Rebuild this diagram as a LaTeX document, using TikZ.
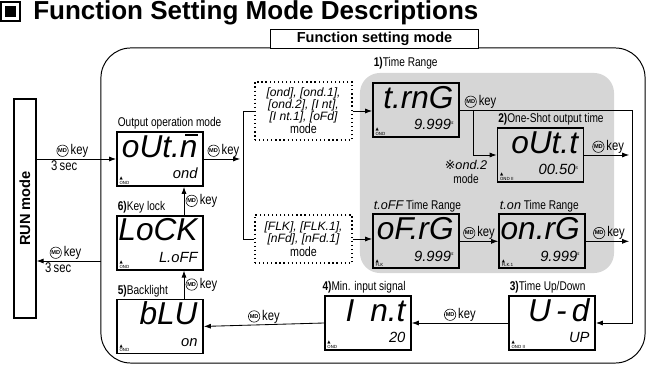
\documentclass[tikz,border=0pt]{standalone}
\usepackage{fontspec}
\setmainfont{Liberation Sans}
\newfontfamily\narrowfont[FakeStretch=0.8]{Liberation Sans}
\newfontfamily\segfont{Liberation Sans}
\newfontfamily\symfont{DejaVu Sans}
\usetikzlibrary{arrows.meta,positioning,calc}
\definecolor{rangegray}{RGB}{214,214,214}

\newcommand{\mdkey}{\tikz[baseline=-2.6pt]\node[circle,draw,anchor=center,line width=0.4pt,inner sep=0.5pt,font=\rmfamily\bfseries\fontsize{4}{4}\selectfont]{MD};\,{\fontsize{10}{10}\selectfont key}}
\newcommand{\secs}{\raisebox{4pt}{\fontsize{3.5}{3.5}\selectfont s}}
\newcommand{\mbar}{\rlap{\hspace{0.16em}\rule[0.66em]{0.42em}{0.07em}}}
\newcommand{\lcdtext}[4]{%
  \node[bigseg,anchor=base east] (#1-big) at ([xshift=-0.15cm,yshift=-0.65cm]#1.north east) {#2};
  \node[smallseg,anchor=base east] (#1-small) at ([xshift=-0.15cm,yshift=0.2cm]#1.south east) {#3};
  \node[tag,anchor=south west] (#1-tag) at ([xshift=0.08cm,yshift=0.05cm]#1.south west) {▲\\#4};
}

\begin{document}
\begin{tikzpicture}[
  x=0.025cm,y=0.025cm,
  font=\narrowfont\fontsize{9}{10}\selectfont,
  lcd/.style={draw,line width=1.2pt,minimum width=2.15cm,minimum height=1.35cm,inner sep=0pt},
  bigseg/.style={font=\segfont\itshape\fontsize{22.5}{22.5}\selectfont,inner sep=0pt},
  smallseg/.style={font=\segfont\itshape\fontsize{10.5}{10.5}\selectfont,inner sep=0pt},
  tag/.style={font=\symfont\fontsize{3}{3.4}\selectfont,align=left,inner sep=0pt},
  dots/.style={draw,dotted,line width=0.9pt,align=center,inner sep=1pt,minimum width=2.43cm,
    font=\segfont\itshape\fontsize{8.6}{8.4}\selectfont},
  lbl/.style={inner sep=1pt},
  arr/.style={-{Latex[length=5pt,width=3.6pt]},line width=0.6pt},
  wire/.style={line width=0.6pt}
]
\useasboundingbox (0,0) rectangle (664,-366);

\node[draw,line width=0.8pt,minimum size=0.475cm,inner sep=0pt] (icon) at (10.5,-11.5) {};
\node[fill=black,minimum size=0.27cm,inner sep=0pt] (iconfill) at (icon) {};
\node[anchor=base west,inner sep=0pt,font=\rmfamily\bfseries\fontsize{18.5}{20}\selectfont] (title) at (33,-20) {Function Setting Mode Descriptions};

\node[draw,line width=0.7pt,rounded corners=0.75cm,minimum width=13.6cm,minimum height=7.875cm] (frame) at (373,-205.5) {};
\node[draw,fill=white,line width=0.7pt,minimum width=5.175cm,minimum height=0.475cm,inner sep=0pt,
  font=\rmfamily\bfseries\fontsize{10.3}{12}\selectfont] (tab) at (374.5,-38.5) {Function setting mode};
\node[fill=rangegray,rounded corners=0.5cm,minimum width=6.35cm,minimum height=5cm] (range) at (487,-173) {};

\node[draw,line width=0.8pt,minimum width=0.55cm,minimum height=5.475cm,inner sep=0pt,
  font=\rmfamily\bfseries\fontsize{10.4}{12}\selectfont] (run) at (25,-208.5) {\rotatebox{90}{RUN mode}};

\node[lcd] (outn) at (160,-159) {};
\node[lcd,below=0.7cm of outn] (lock) {};
\node[lcd,below=0.7cm of lock] (blu) {};
\node[lcd] (trng) at (416,-110) {};
\node[lcd] (outt) at (540.5,-155) {};
\node[lcd,below=1.89cm of trng] (ofrg) {};
\node[lcd,right=0.96cm of ofrg] (onrg) {};
\node[lcd] (ud) at (552,-323) {};
\node[lcd,left=2.41cm of ud] (nt) {};

\lcdtext{outn}{oUt.\mbar n}{ond}{OND}
\lcdtext{lock}{LoCK}{L.oFF}{OND}
\lcdtext{blu}{bLU}{on}{OND}
\lcdtext{trng}{t.rnG}{9.999\secs}{OND}
\lcdtext{outt}{oUt.t}{00.50\secs}{OND II}
\lcdtext{ofrg}{oF.rG}{9.999\secs}{FLK}
\lcdtext{onrg}{on.rG}{9.999\secs}{FLK.1}
\lcdtext{nt}{I\enspace n.t}{20}{OND}
\lcdtext{ud}{U\,-\,d}{UP}{OND II}

\node[lbl,anchor=south west] (outn-l) at (outn.north west) {Output operation mode};
\node[lbl,anchor=south west] (lock-l) at (lock.north west) {\textbf{6)}Key lock};
\node[lbl,anchor=south west] (blu-l) at (blu.north west) {\textbf{5)}Backlight};
\node[lbl,anchor=south west] (trng-l) at ([yshift=0.28cm]trng.north west) {\textbf{1)}Time Range};
\node[lbl,anchor=south west] (outt-l) at (outt.north west) {\textbf{2)}One-Shot output time};
\node[lbl,anchor=south west] (ofrg-l) at (ofrg.north west) {{\segfont\itshape t.oFF} Time Range};
\node[lbl,anchor=south west] (onrg-l) at (onrg.north west) {{\segfont\itshape t.on} Time Range};
\node[lbl,anchor=south west] (nt-l) at ([xshift=-0.08cm]nt.north west) {\textbf{4)}Min. input signal};
\node[lbl,anchor=south west] (ud-l) at (ud.north west) {\textbf{3)}Time Up/Down};

\node[dots,minimum height=1.45cm] (dot1) at (303.5,-111) {{}[ond], [ond.1],\\ {}[ond.2], [I nt],\\ {}[I nt.1], [oFd]\\ {\narrowfont\upshape\fontsize{9.5}{9}\selectfont mode}};
\node[dots,minimum height=1.2cm] (dot2) at (303.5,-239) {{}[FLK], [FLK.1],\\ {}[nFd], [nFd.1]\\ {\narrowfont\upshape\fontsize{9.5}{9}\selectfont mode}};
\node[align=center,inner sep=0pt] (note) at (466,-172) {{\symfont ※}{\segfont\itshape ond.2}\\mode};

\coordinate (fork) at (243,0);
\coordinate (rbus) at (632,0);
\coordinate (split) at (473,0);
\coordinate (colx) at (184,0);
\coordinate (back) at (101,-261);

\draw[arr] (run.east |- outn) -- node[lbl,pos=0.45,above]{\mdkey} node[lbl,pos=0.4,below,xshift=-3pt]{\fontsize{10}{10}\selectfont 3\,sec} (outn.west);
\draw[arr] (back) -- node[lbl,pos=0.55,above]{\mdkey} node[lbl,pos=0.6,below,xshift=-3pt]{\fontsize{10}{10}\selectfont 3\,sec} (run.east |- back);
\draw[arr,shorten >=2pt] (outn.east) -- node[lbl,above]{\mdkey} (outn.east -| fork);
\draw[wire] (dot1.west) -- (dot1.west -| fork) -- (dot2.west -| fork) -- (dot2.west);
\draw[arr] (dot1.east) -- (dot1.east -| trng.west);
\draw[arr] (dot2.east) -- (dot2.east -| ofrg.west);
\draw[arr] (trng.east) -- node[lbl,pos=0.12,above]{\mdkey} (trng.east -| rbus) |- (ud.east);
\draw[arr] (trng.east -| split) |- (outt.west);
\draw[arr,shorten >=2pt] (outt.east) -- node[lbl,above]{\mdkey} (outt.east -| rbus);
\draw[arr] (ofrg.east) -- node[lbl,above]{\mdkey} (onrg.west);
\draw[arr,shorten >=2pt] (onrg.east) -- node[lbl,above]{\mdkey} (onrg.east -| rbus);
\draw[arr] (ud.west) -- node[lbl,above]{\mdkey} (nt.east);
\draw[arr] (nt.west) -- node[lbl,above]{\mdkey} (blu.east);
\draw[arr] (colx |- blu.north) -- node[lbl,right]{\mdkey} (colx |- lock.south);
\draw[arr] (colx |- lock.north) -- node[lbl,right]{\mdkey} (colx |- outn.south);
\end{tikzpicture}
\end{document}
